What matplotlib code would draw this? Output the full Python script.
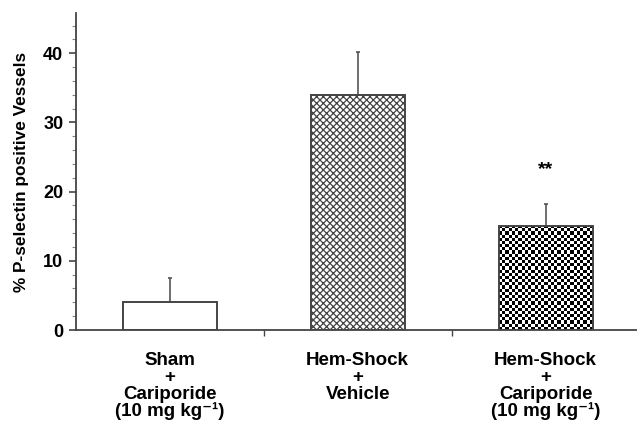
import numpy as np
import matplotlib
matplotlib.use("Agg")
import matplotlib.pyplot as plt
from matplotlib.ticker import MultipleLocator

plt.rcParams['font.family'] = ['Liberation Sans', 'DejaVu Sans']
plt.rcParams['font.weight'] = 'bold'
plt.rcParams['hatch.color'] = '#333333'
plt.rcParams['hatch.linewidth'] = 0.9

groups = ["Sham\n+\nCariporide\n(10 mg kg\u207b\u00b9)",
          "Hem-Shock\n+\nVehicle",
          "Hem-Shock\n+\nCariporide\n(10 mg kg\u207b\u00b9)"]
means = [4.0, 34.0, 15.1]
sem = [3.5, 6.2, 3.1]
marks = ["", "", "**"]

fig = plt.figure(figsize=(6.37, 4.22), dpi=100)
ax = fig.add_axes([0.119, 0.218, 0.885, 0.751])

x = np.arange(len(groups))
edge = '#444444'
bars = ax.bar(x, means, width=0.5, color='white', edgecolor=edge, linewidth=1.4, zorder=2)
bars[1].set_hatch('xxxxx')
bars[2].set_facecolor('none')

ax.errorbar(x, means, yerr=[[0] * len(sem), sem], fmt='none', ecolor='#555555',
            elinewidth=1.2, capsize=1.5, capthick=1.2, zorder=1)

ax.set_xlim(-0.5, 2.5)
ax.set_ylim(0, 45.8)

# checkerboard fill for the last bar, clipped to the bar itself
b = bars[2]
x0, y0 = b.get_x(), b.get_y()
w, h = b.get_width(), b.get_height()
px = ax.transData.transform([(x0, y0), (x0 + w, y0 + h)])
nx = int(round((px[1][0] - px[0][0]) / 3.2))
ny = int(round((px[1][1] - px[0][1]) / 3.2))
checker = (np.indices((ny, nx)).sum(axis=0) % 2).astype(float)
im = ax.imshow(checker, cmap='gray', extent=(x0, x0 + w, y0, y0 + h),
               aspect='auto', interpolation='nearest', zorder=1.8, vmin=0, vmax=1)
im.set_clip_path(b)
ax.set_xlim(-0.5, 2.5)
ax.set_ylim(0, 45.8)

for xi, m, s, t in zip(x, means, sem, marks):
    if t:
        ax.text(xi, m + s + 5.0, t, ha='center', va='center', fontsize=14, fontweight='bold')

ax.set_xticks(x)
ax.set_xticklabels(groups, fontsize=13.5, fontweight='bold', linespacing=0.98)
ax.tick_params(axis='x', length=0, pad=16)
ax.set_xticks([0.5, 1.5], minor=True)
ax.tick_params(axis='x', which='minor', length=4, width=1, color=edge)

ax.yaxis.set_major_locator(MultipleLocator(10))
ax.yaxis.set_minor_locator(MultipleLocator(2))
ax.tick_params(axis='y', which='major', length=5, width=1.2, color=edge, labelsize=13, pad=4)
ax.tick_params(axis='y', which='minor', length=3, width=0.8, color='#888888')
for lab in ax.get_yticklabels():
    lab.set_fontweight('bold')

ax.set_ylabel('% P-selectin positive Vessels', fontsize=12.4, fontweight='bold', labelpad=10)

for side in ['top', 'right']:
    ax.spines[side].set_visible(False)
for side in ['left', 'bottom']:
    ax.spines[side].set_color(edge)
    ax.spines[side].set_linewidth(1.3)

fig.savefig('out.png', dpi=100)
